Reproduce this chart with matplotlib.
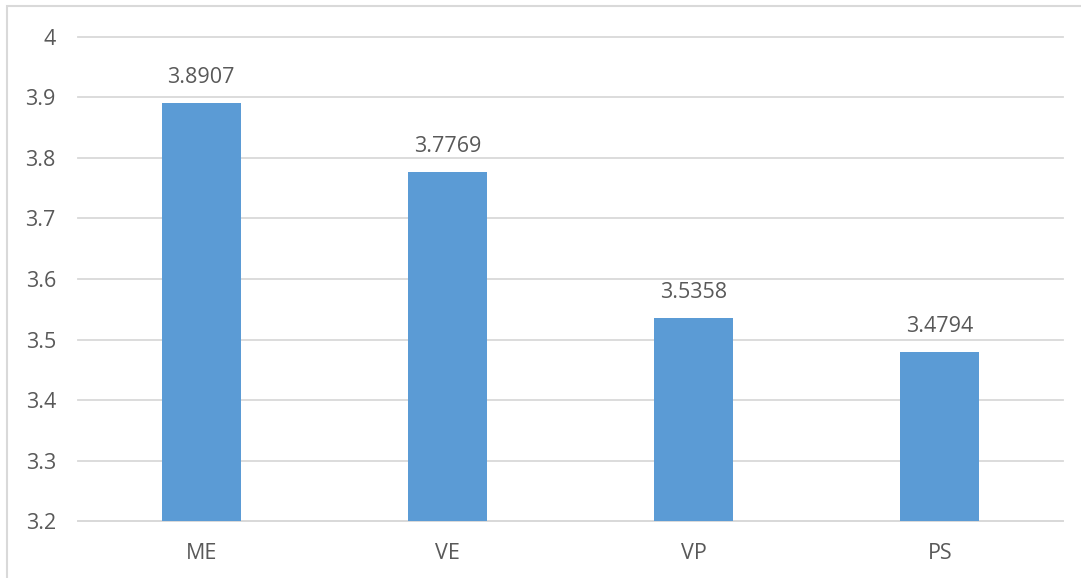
import matplotlib.pyplot as plt
from matplotlib.patches import Rectangle
from matplotlib.ticker import MultipleLocator

categories = ["ME", "VE", "VP", "PS"]
scores = [3.8907, 3.7769, 3.5358, 3.4794]

plt.rcParams['font.family'] = ['Open Sans', 'DejaVu Sans']
text_color = '#595959'
grid_color = '#D9D9D9'
bar_color = '#5B9BD5'

fig = plt.figure(figsize=(10.81, 5.78), dpi=100)
ax = fig.add_axes([0.0722, 0.0986, 0.9111, 0.8374])

x = range(len(categories))
bars = ax.bar(x, scores, width=0.32, color=bar_color, zorder=3)

ax.set_ylim(3.2, 4.0)
ax.set_xlim(-0.5, len(categories) - 0.5)
ax.yaxis.set_major_locator(MultipleLocator(0.1))
ax.set_xticks(list(x))
ax.set_xticklabels(categories)
ax.set_yticklabels([f"{v:g}" for v in ax.get_yticks()])

ax.grid(axis='y', color=grid_color, linewidth=1.3, zorder=0)
for line in ax.get_ygridlines():
    line.set_clip_on(False)
for side in ['top', 'right', 'left']:
    ax.spines[side].set_visible(False)
ax.spines['bottom'].set_color(grid_color)
ax.spines['bottom'].set_linewidth(1.3)
ax.tick_params(axis='both', length=0, labelsize=15.5, colors=text_color)
ax.tick_params(axis='x', pad=16)
ax.tick_params(axis='y', pad=16)

for rect, val in zip(bars, scores):
    ax.annotate(f"{val:.4f}", xy=(rect.get_x() + rect.get_width() / 2, val),
                xytext=(0, 11), textcoords='offset points',
                ha='center', va='bottom', fontsize=15.5, color=text_color)

# outer chart frame, left and top edges only show
fig.patches.append(Rectangle((7 / 1081, -0.1), 1.2, 1.1 - 6 / 578,
                             transform=fig.transFigure, fill=False,
                             edgecolor=grid_color, linewidth=1.5))

fig.savefig('out.png', dpi=100)
